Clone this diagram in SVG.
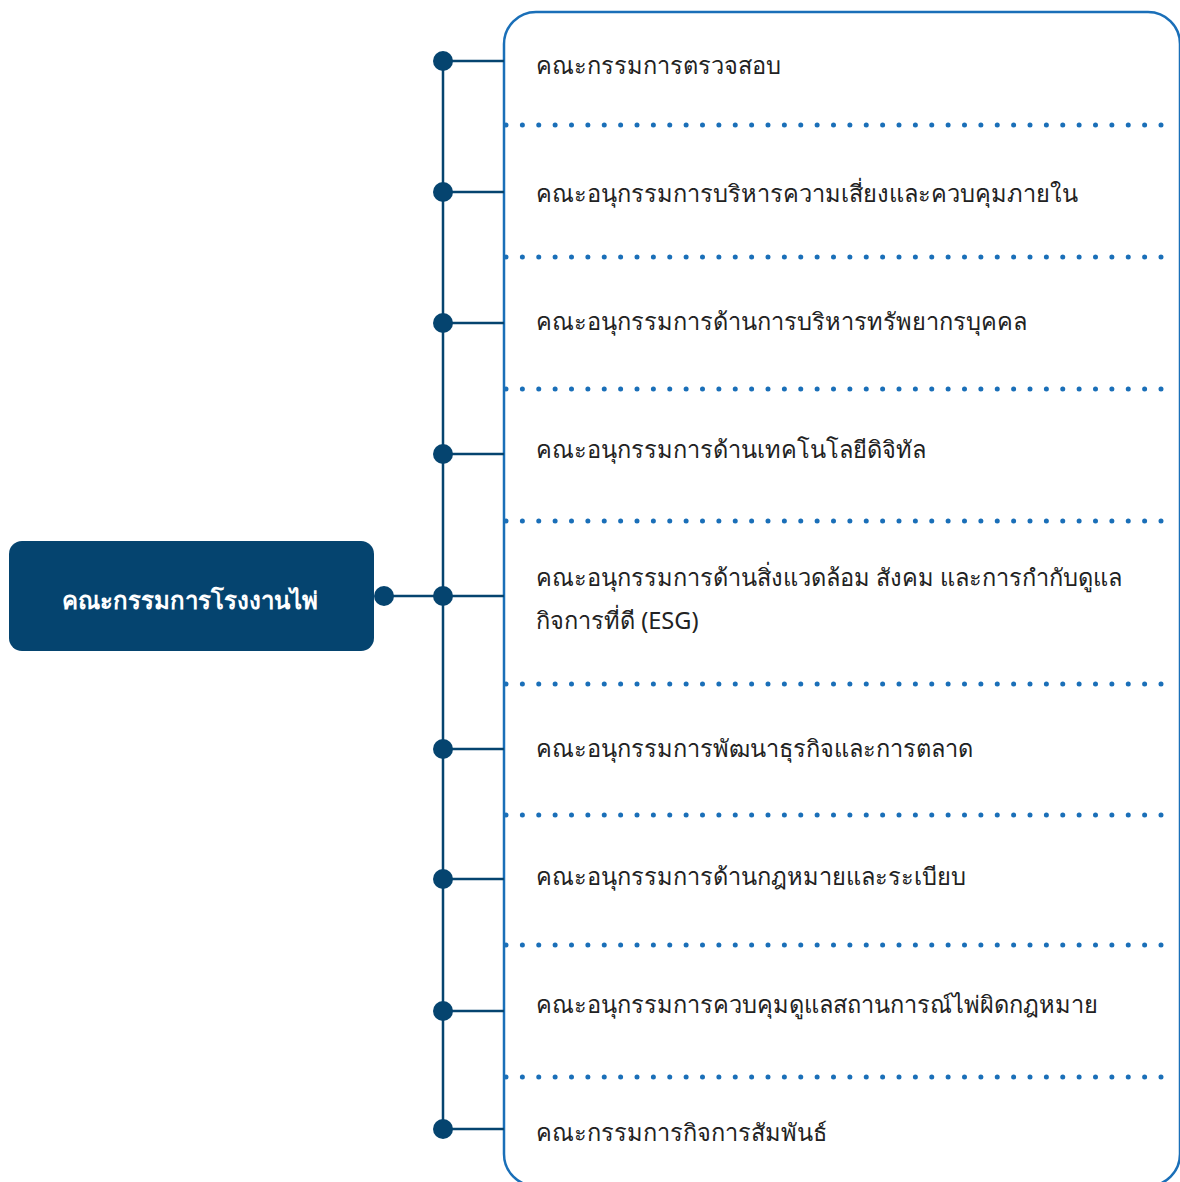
<svg xmlns="http://www.w3.org/2000/svg" width="1180" height="1182" viewBox="0 0 1180 1182">
<style>
.t{font-family:"Noto Sans","DejaVu Sans",sans-serif;font-size:23.6px;fill:#222;}
.root{font-family:"Noto Sans","DejaVu Sans",sans-serif;font-size:24px;fill:#fff;font-weight:600;}
.ln{stroke:#05446f;stroke-width:2.5;fill:none;}
.dot{fill:#05446f;}
.sep{stroke:#1a6fb8;stroke-width:5;stroke-linecap:round;stroke-dasharray:0 16.375;}
</style>
<rect width="1180" height="1182" fill="#fff"/>
<g id="panel">
<rect x="504" y="12" width="676" height="1174" rx="32" ry="32" fill="none" stroke="#1a6fb8" stroke-width="2.5"/>
<line class="sep" x1="506" y1="125" x2="1163" y2="125"/>
<line class="sep" x1="506" y1="257" x2="1163" y2="257"/>
<line class="sep" x1="506" y1="389" x2="1163" y2="389"/>
<line class="sep" x1="506" y1="521" x2="1163" y2="521"/>
<line class="sep" x1="506" y1="684" x2="1163" y2="684"/>
<line class="sep" x1="506" y1="815" x2="1163" y2="815"/>
<line class="sep" x1="506" y1="945" x2="1163" y2="945"/>
<line class="sep" x1="506" y1="1077" x2="1163" y2="1077"/>
</g>
<g id="connectors">
<line class="ln" x1="443" y1="61" x2="443" y2="1129"/>
<line class="ln" x1="384" y1="596" x2="443" y2="596"/>
<line class="ln" x1="443" y1="61" x2="504" y2="61"/>
<line class="ln" x1="443" y1="192" x2="504" y2="192"/>
<line class="ln" x1="443" y1="323" x2="504" y2="323"/>
<line class="ln" x1="443" y1="454" x2="504" y2="454"/>
<line class="ln" x1="443" y1="596" x2="504" y2="596"/>
<line class="ln" x1="443" y1="749" x2="504" y2="749"/>
<line class="ln" x1="443" y1="879" x2="504" y2="879"/>
<line class="ln" x1="443" y1="1011" x2="504" y2="1011"/>
<line class="ln" x1="443" y1="1129" x2="504" y2="1129"/>
<circle class="dot" cx="384" cy="596" r="10"/>
<circle class="dot" cx="443" cy="61" r="10"/>
<circle class="dot" cx="443" cy="192" r="10"/>
<circle class="dot" cx="443" cy="323" r="10"/>
<circle class="dot" cx="443" cy="454" r="10"/>
<circle class="dot" cx="443" cy="596" r="10"/>
<circle class="dot" cx="443" cy="749" r="10"/>
<circle class="dot" cx="443" cy="879" r="10"/>
<circle class="dot" cx="443" cy="1011" r="10"/>
<circle class="dot" cx="443" cy="1129" r="10"/>
</g>
<g id="root">
<rect x="9" y="541" width="365" height="110" rx="13" ry="13" fill="#05446f"/>
<text class="root" x="190" y="609" text-anchor="middle">คณะกรรมการโรงงานไพ่</text>
</g>
<g id="n1"><text class="t" x="536" y="74">คณะกรรมการตรวจสอบ</text></g>
<g id="n2"><text class="t" x="536" y="202">คณะอนุกรรมการบริหารความเสี่ยงและควบคุมภายใน</text></g>
<g id="n3"><text class="t" x="536" y="330">คณะอนุกรรมการด้านการบริหารทรัพยากรบุคคล</text></g>
<g id="n4"><text class="t" x="536" y="458">คณะอนุกรรมการด้านเทคโนโลยีดิจิทัล</text></g>
<g id="n5"><text class="t" x="536" y="586">คณะอนุกรรมการด้านสิ่งแวดล้อม สังคม และการกำกับดูแล</text><text class="t" x="536" y="629">กิจการที่ดี (ESG)</text></g>
<g id="n6"><text class="t" x="536" y="757">คณะอนุกรรมการพัฒนาธุรกิจและการตลาด</text></g>
<g id="n7"><text class="t" x="536" y="885">คณะอนุกรรมการด้านกฎหมายและระเบียบ</text></g>
<g id="n8"><text class="t" x="536" y="1013">คณะอนุกรรมการควบคุมดูแลสถานการณ์ไพ่ผิดกฎหมาย</text></g>
<g id="n9"><text class="t" x="536" y="1141">คณะกรรมการกิจการสัมพันธ์</text></g>
</svg>
